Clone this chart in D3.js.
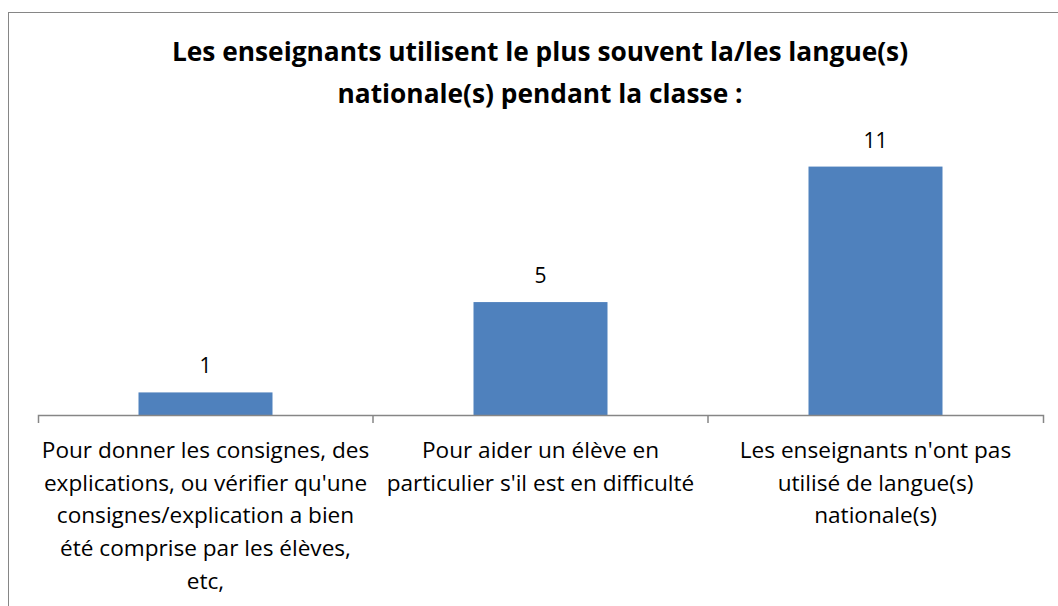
<!DOCTYPE html>
<html>
<head>
<meta charset="utf-8">
<script src="https://cdn.jsdelivr.net/npm/d3@7.9.0/dist/d3.min.js"></script>
<style>
  html, body { margin: 0; padding: 0; background: #fff; }
  svg { display: block; font-family: "Open Sans", "Noto Sans", sans-serif; }
</style>
</head>
<body>
<div id="chart"></div>
<script>
// Data
const categories = [
  "Pour donner les consignes, des explications, ou vérifier qu'une consignes/explication a bien été comprise par les élèves, etc,",
  "Pour aider un élève en particulier s'il est en difficulté",
  "Les enseignants n'ont pas utilisé de langue(s) nationale(s)"
];
// how each category label is broken into lines
const categoryLines = [
  ["Pour donner les consignes, des", "explications, ou vérifier qu'une", "consignes/explication a bien", "été comprise par les élèves,", "etc,"],
  ["Pour aider un élève en", "particulier s'il est en difficulté"],
  ["Les enseignants n'ont pas", "utilisé de langue(s)", "nationale(s)"]
];
const values = [1, 5, 11];
const titleLines = [
  "Les enseignants utilisent le plus souvent la/les langue(s)",
  "nationale(s) pendant la classe :"
];

const W = 1058, H = 606;
const svg = d3.select("#chart").append("svg")
  .attr("width", W)
  .attr("height", H);

// chart frame (runs off the right and bottom edges)
svg.append("rect")
  .attr("x", 8.5)
  .attr("y", 12.5)
  .attr("width", W + 20)
  .attr("height", H + 20)
  .attr("fill", "none")
  .attr("stroke", "#868686")
  .attr("stroke-width", 1);

// Title
svg.append("text")
  .attr("x", 540)
  .attr("y", 61)
  .attr("text-anchor", "middle")
  .style("font-size", "26.3px")
  .style("font-weight", "bold")
  .style("fill", "#000")
  .selectAll("tspan")
  .data(titleLines)
  .join("tspan")
    .attr("x", 540)
    .attr("dy", (d, i) => i === 0 ? 0 : 42)
    .text(d => d);

// Scales
const x = d3.scaleBand()
  .domain(categories)
  .range([38, 1043])
  .paddingInner(0.6)
  .paddingOuter(0.3);

const y = d3.scaleLinear()
  .domain([0, 12])
  .range([415, 144]);

// Bars
svg.selectAll("rect.bar")
  .data(values)
  .join("rect")
    .attr("class", "bar")
    .attr("x", (d, i) => x(categories[i]))
    .attr("y", d => y(d))
    .attr("width", x.bandwidth())
    .attr("height", d => y(0) - y(d))
    .attr("fill", "#4F81BD");

// Value labels
svg.selectAll("text.value")
  .data(values)
  .join("text")
    .attr("class", "value")
    .attr("x", (d, i) => x(categories[i]) + x.bandwidth() / 2)
    .attr("y", d => y(d) - 19)
    .attr("text-anchor", "middle")
    .style("font-size", "21px")
    .style("fill", "#000")
    .text(d => d);

// X axis
const axis = svg.append("g")
  .attr("transform", `translate(0,${y(0)})`)
  .call(d3.axisBottom(x).tickSize(0).tickSizeOuter(8).tickFormat(""));
axis.select(".domain").attr("stroke", "#868686").attr("stroke-width", 1.5);

// boundary ticks between categories
const step = x.step();
const bounds = d3.range(1, categories.length).map(i => x.range()[0] + i * step);
axis.selectAll("line.bound")
  .data(bounds)
  .join("line")
    .attr("class", "bound")
    .attr("x1", d => d)
    .attr("x2", d => d)
    .attr("y1", 0)
    .attr("y2", 8)
    .attr("stroke", "#868686")
    .attr("stroke-width", 1.5);

// Category labels
svg.selectAll("text.cat")
  .data(categories)
  .join("text")
    .attr("class", "cat")
    .attr("text-anchor", "middle")
    .attr("y", y(0) + 43)
    .style("font-size", "22.6px")
    .style("fill", "#000")
    .each(function(d, i) {
      const cx = x(d) + x.bandwidth() / 2;
      d3.select(this).selectAll("tspan")
        .data(categoryLines[i])
        .join("tspan")
          .attr("x", cx)
          .attr("dy", (t, j) => j === 0 ? 0 : 32.7)
          .text(t => t);
    });
</script>
</body>
</html>
